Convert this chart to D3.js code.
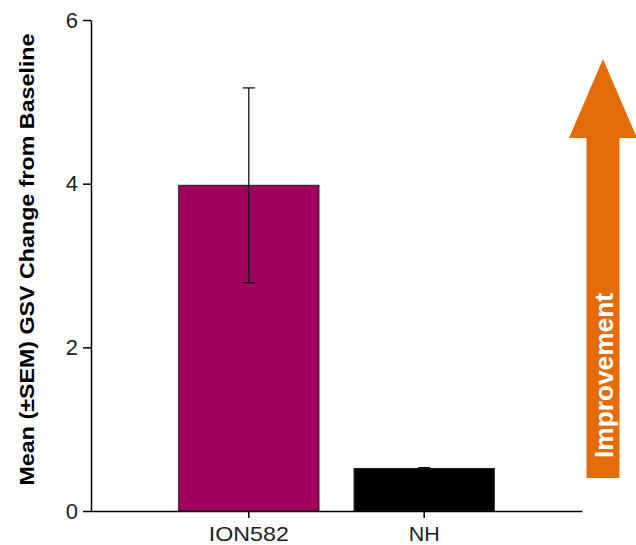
<!DOCTYPE html>
<html>
<head>
<meta charset="utf-8">
<script src="https://cdn.jsdelivr.net/npm/d3@7"></script>
<style>
  body { margin: 0; background: #fff; }
  svg { display: block; font-family: "Liberation Sans", Arial, sans-serif; }
</style>
</head>
<body>
<div class="chart"></div>
<script>
// Data
const groups = ["ION582", "NH"];
const means = [3.98, 0.52];
const sems = [1.19, 0.01];
const barColors = ["#A0005F", "#000000"];
const yTicks = [0, 2, 4, 6];

const width = 636;
const height = 545;

const svg = d3.select(".chart")
  .append("svg")
  .attr("width", width)
  .attr("height", height);

// Scales
const x = d3.scaleBand()
  .domain(groups)
  .range([91, 582])
  .paddingInner(0.2)
  .paddingOuter(0.5);

const y = d3.scaleLinear()
  .domain([0, 6])
  .range([511, 20]);

const data = groups.map((g, i) => ({ group: g, mean: means[i], sem: sems[i], color: barColors[i] }));

// Bars
svg.selectAll("rect.bar")
  .data(data)
  .enter()
  .append("rect")
  .attr("class", "bar")
  .attr("x", d => x(d.group))
  .attr("y", d => y(d.mean))
  .attr("width", x.bandwidth())
  .attr("height", d => y(0) - y(d.mean))
  .attr("fill", d => d.color)
  .attr("stroke", "#222")
  .attr("stroke-width", 1);

// Error bars (±SEM)
const err = svg.selectAll("g.err")
  .data(data)
  .enter()
  .append("g")
  .attr("class", "err")
  .attr("stroke", "#000")
  .attr("stroke-width", 1.2);

err.append("line")
  .attr("x1", d => x(d.group) + x.bandwidth() / 2)
  .attr("x2", d => x(d.group) + x.bandwidth() / 2)
  .attr("y1", d => y(d.mean - d.sem))
  .attr("y2", d => y(d.mean + d.sem));

[-1, 1].forEach(s => {
  err.append("line")
    .attr("x1", d => x(d.group) + x.bandwidth() / 2 - 6)
    .attr("x2", d => x(d.group) + x.bandwidth() / 2 + 6)
    .attr("y1", d => y(d.mean + s * d.sem))
    .attr("y2", d => y(d.mean + s * d.sem));
});

// Y axis
const yAxis = svg.append("g")
  .attr("transform", `translate(${x.range()[0]},0)`)
  .call(d3.axisLeft(y).tickValues(yTicks).tickFormat(d3.format("d"))
    .tickSize(8).tickSizeOuter(0).tickPadding(5));

yAxis.select(".domain").attr("stroke-width", 1.5);
yAxis.selectAll(".tick line").attr("stroke-width", 1.5);
yAxis.selectAll(".tick text")
  .attr("font-size", 22)
  .attr("fill", "#222")
  .attr("font-family", "Liberation Sans, Arial, sans-serif");

// X axis
const xAxis = svg.append("g")
  .attr("transform", `translate(0,${y(0)})`)
  .call(d3.axisBottom(x).tickSize(7).tickSizeOuter(0).tickPadding(8));

xAxis.select(".domain").attr("stroke-width", 1.5);
xAxis.selectAll(".tick line").attr("stroke-width", 1.5);
xAxis.selectAll(".tick text")
  .attr("font-size", 21)
  .attr("fill", "#222")
  .attr("font-family", "Liberation Sans, Arial, sans-serif")
  .attr("textLength", d => d === "ION582" ? 80 : 31)
  .attr("lengthAdjust", "spacingAndGlyphs");

// Y axis title
svg.append("text")
  .attr("transform", `translate(34,${(33 + 486) / 2}) rotate(-90)`)
  .attr("text-anchor", "middle")
  .attr("font-size", 20)
  .attr("font-weight", "bold")
  .attr("fill", "#000")
  .attr("textLength", 452)
  .attr("lengthAdjust", "spacingAndGlyphs")
  .text("Mean (±SEM) GSV Change from Baseline");

// Improvement arrow
const ax = 603;          // arrow centre line
const arrowTop = 59;
const headBase = 138;
const arrowBottom = 478;
const headHalf = 34;
const shaftHalf = 16.5;

svg.append("path")
  .attr("d", [
    `M${ax},${arrowTop}`,
    `L${ax + headHalf},${headBase}`,
    `L${ax + shaftHalf},${headBase}`,
    `L${ax + shaftHalf},${arrowBottom}`,
    `L${ax - shaftHalf},${arrowBottom}`,
    `L${ax - shaftHalf},${headBase}`,
    `L${ax - headHalf},${headBase}`,
    "Z"
  ].join(""))
  .attr("fill", "#E36C09");

svg.append("text")
  .attr("transform", `translate(${ax + 10},${(293 + 458) / 2}) rotate(-90)`)
  .attr("text-anchor", "middle")
  .attr("font-size", 26)
  .attr("font-weight", "bold")
  .attr("fill", "#fff")
  .attr("textLength", 165)
  .attr("lengthAdjust", "spacingAndGlyphs")
  .text("Improvement");
</script>
</body>
</html>
